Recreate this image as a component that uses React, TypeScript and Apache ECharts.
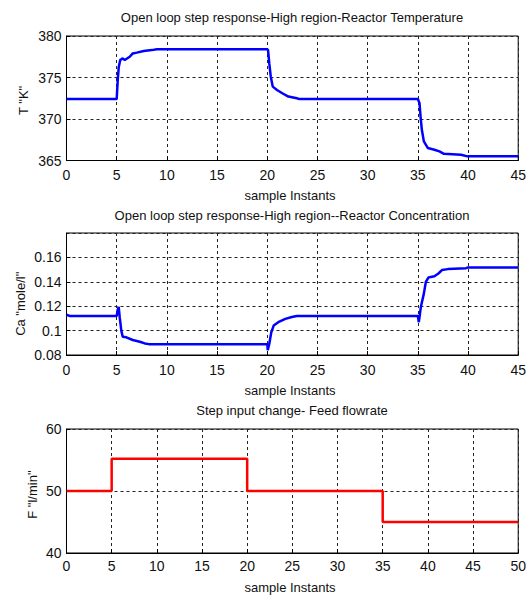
import React, { useEffect, useRef } from "react";
import * as echarts from "echarts";

// Reactor temperature response (sample instant, K)
const tempX = [0, 5.0, 5.1, 5.2, 5.35, 5.6, 5.8, 6.3, 6.6, 7.0, 7.7, 8.5, 9.0, 20.0, 20.08, 20.2, 20.35, 20.55, 20.97, 21.5, 22.1, 22.95, 23.2, 35.0, 35.07, 35.17, 35.27, 35.4, 35.6, 36.0, 36.65, 37.15, 37.6, 39.3, 39.95, 45];
const tempY = [372.4, 372.4, 374.6, 376.2, 377.1, 377.3, 377.1, 377.5, 377.9, 378.0, 378.2, 378.3, 378.4, 378.4, 378.3, 376.7, 375.1, 373.9, 373.5, 373.1, 372.7, 372.5, 372.4, 372.4, 372.2, 371.9, 370.3, 368.7, 367.3, 366.5, 366.3, 366.1, 365.8, 365.7, 365.5, 365.5];

// Reactor concentration response (sample instant, mole/l)
const concX = [0, 0.3, 5.0, 5.1, 5.2, 5.3, 5.46, 5.6, 5.96, 6.6, 7.3, 7.8, 8.2, 20.0, 20.05, 20.2, 20.4, 20.64, 21.1, 21.8, 22.45, 22.95, 35.0, 35.1, 35.3, 35.6, 35.8, 36.05, 36.65, 37.05, 37.4, 38.0, 39.8, 40.0, 45];
const concY = [0.113, 0.112, 0.112, 0.117, 0.1195, 0.111, 0.1, 0.095, 0.0945, 0.0923, 0.0909, 0.0895, 0.0889, 0.0889, 0.084, 0.089, 0.0986, 0.1041, 0.1069, 0.1096, 0.1112, 0.112, 0.112, 0.1069, 0.1193, 0.1303, 0.14, 0.1435, 0.1446, 0.1468, 0.1496, 0.1504, 0.1512, 0.1518, 0.1518];

// Feed flowrate step input (sample instant, l/min)
const flowX = [0, 5, 5, 20, 20, 35, 35, 50];
const flowY = [50, 50, 55.2, 55.2, 50, 50, 45, 45];

const titles = [
  "Open loop step response-High region-Reactor Temperature",
  "Open loop step response-High region--Reactor Concentration",
  "Step input change- Feed flowrate",
];
const yNames = ['T "K"', 'Ca "mole/l"', 'F "l/min"'];
const xName = "sample Instants";

const FONT = "Liberation Sans, Arial, sans-serif";
const TXT = "#111";

const zip = (xs: number[], ys: number[]) => xs.map((x, i) => [x, ys[i]]);

export default function App() {
  const ref = useRef<HTMLDivElement>(null);
  useEffect(() => {
    document.body.style.margin = "0";
    const chart = echarts.init(ref.current!, undefined, { renderer: "svg" });

    const grids = [
      { left: 66.5, right: 7.5, top: 36, height: 124.5, show: true, borderColor: "#000", borderWidth: 1 },
      { left: 66.5, right: 7.5, top: 233, height: 122, show: true, borderColor: "#000", borderWidth: 1 },
      { left: 66.5, right: 7.5, top: 429, height: 124, show: true, borderColor: "#000", borderWidth: 1 },
    ];

    const splitLine = { show: true, lineStyle: { color: "#222", type: [3, 3] as any, width: 1 } };
    const axisLine = { show: true, lineStyle: { color: "#000", width: 1 } };
    const axisTick = { show: true, inside: true, length: 4, lineStyle: { color: "#000" } };

    const mkX = (i: number, max: number, margin: number) => ({
      type: "value",
      gridIndex: i,
      min: 0,
      max,
      interval: 5,
      axisLine,
      axisTick,
      splitLine,
      axisLabel: { fontFamily: FONT, fontSize: 14, color: TXT, margin },
    });
    const mkY = (i: number, min: number, max: number, interval: number, showMax: boolean) => ({
      type: "value",
      gridIndex: i,
      min,
      max,
      interval,
      axisLine,
      axisTick,
      splitLine,
      axisLabel: { fontFamily: FONT, fontSize: 14, color: TXT, margin: 5, showMaxLabel: showMax },
    });

    const txt = (text: string, x: number, y: number, rot = 0) => ({
      type: "text",
      x,
      y,
      rotation: rot,
      style: {
        text,
        fill: TXT,
        font: `13px ${FONT}`,
        fontSize: 13,
        fontFamily: FONT,
        align: "center",
        verticalAlign: "middle",
        textAlign: "center",
        textVerticalAlign: "middle",
      },
    });

    chart.setOption({
      animation: false,
      backgroundColor: "#fff",
      grid: grids,
      xAxis: [mkX(0, 45, 7), mkX(1, 45, 8), mkX(2, 50, 6)],
      yAxis: [mkY(0, 365, 380, 5, true), mkY(1, 0.08, 0.18, 0.02, false), mkY(2, 40, 60, 10, true)],
      series: [
        {
          type: "line",
          xAxisIndex: 0,
          yAxisIndex: 0,
          data: zip(tempX, tempY),
          showSymbol: false,
          lineStyle: { color: "#0000ff", width: 2.5 },
        },
        {
          type: "line",
          xAxisIndex: 1,
          yAxisIndex: 1,
          data: zip(concX, concY),
          showSymbol: false,
          lineStyle: { color: "#0000ff", width: 2.5 },
        },
        {
          type: "line",
          xAxisIndex: 2,
          yAxisIndex: 2,
          data: zip(flowX, flowY),
          showSymbol: false,
          lineStyle: { color: "#ff0000", width: 2.5 },
        },
      ],
      graphic: [
        txt(titles[0], 292, 17),
        txt(titles[1], 292, 215),
        txt(titles[2], 292, 410),
        txt(xName, 290, 195),
        txt(xName, 290, 390),
        txt(xName, 290, 587),
        txt(yNames[0], 23.6, 100.4, Math.PI / 2),
        txt(yNames[1], 20.2, 303.8, Math.PI / 2),
        txt(yNames[2], 32, 494.6, Math.PI / 2),
      ],
    });
    return () => chart.dispose();
  }, []);
  return <div ref={ref} style={{ width: 529, height: 595 }} />;
}
